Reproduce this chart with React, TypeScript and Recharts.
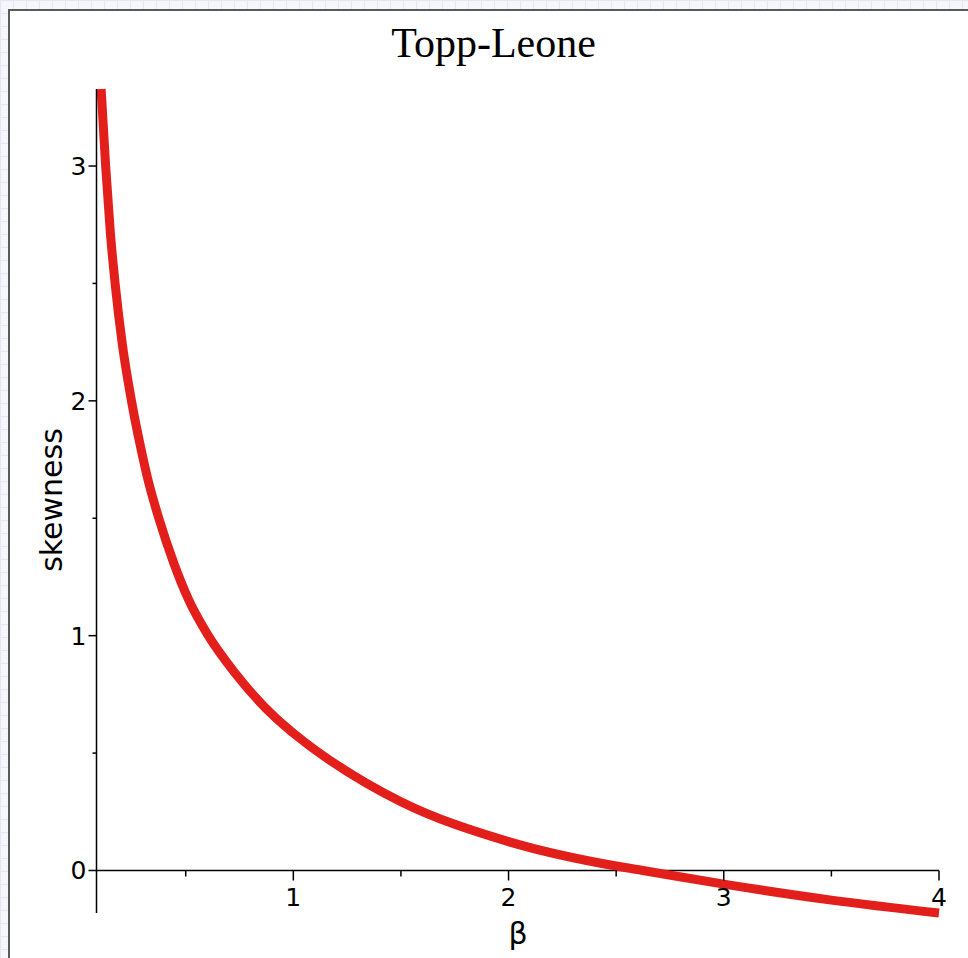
import React from 'react';
import { LineChart, Line, XAxis, YAxis, ReferenceLine, ReferenceDot } from 'recharts';

const betaValues = [0.107, 0.128, 0.15, 0.172, 0.205, 0.248, 0.29, 0.325, 0.375, 0.445, 0.515, 0.605, 0.73, 0.92, 1.0, 1.341, 1.5, 2.0, 2.5, 2.624, 3.0, 3.5, 4.0];
const skewValues = [3.328, 3.0, 2.714, 2.5, 2.245, 2.0, 1.805, 1.663, 1.5, 1.308, 1.15, 1.0, 0.84, 0.648, 0.585, 0.371, 0.293, 0.123, 0.019, 0, -0.058, -0.126, -0.181];
const xTicks = [0.5, 1, 1.5, 2, 2.5, 3, 3.5, 4];
const yTicks = [0, 0.5, 1, 1.5, 2, 2.5, 3];
const xDomain: [number, number] = [0.0855, 4];
const yDomain: [number, number] = [-0.181, 3.328];

const titleText = 'Topp-Leone';
const xLabelText = 'β';
const yLabelText = 'skewness';

const data = betaValues.map((b, i) => ({ beta: b, skew: skewValues[i] }));

const TICK_FONT = 'DejaVu Sans, sans-serif';

const YTick = (props: any) => {
  const { x, y, payload } = props;
  const v = payload.value;
  const major = Number.isInteger(v);
  return (
    <g>
      <line x1={x - (major ? 8 : 4)} x2={x} y1={y} y2={y} stroke="#000" strokeWidth={1.5} />
      {major && (
        <text x={x - 10} y={y + 9} textAnchor="end" fontFamily={TICK_FONT} fontSize={25} fill="#000">
          {v}
        </text>
      )}
    </g>
  );
};

const makeXTick = (v: number) => (props: any) => {
  const { cx, cy } = props;
  const major = Number.isInteger(v);
  return (
    <g>
      <line x1={cx} x2={cx} y1={cy} y2={cy + (major ? 10 : 6)} stroke="#000" strokeWidth={1.5} />
      {major && (
        <text x={cx} y={cy + 36} textAnchor="middle" fontFamily={TICK_FONT} fontSize={25} fill="#000">
          {v}
        </text>
      )}
    </g>
  );
};

export default function App() {
  return (
    <div
      style={{
        position: 'absolute',
        left: 0,
        top: 0,
        width: 968,
        height: 958,
        overflow: 'hidden',
        backgroundColor: '#f6f7fb',
        backgroundImage:
          'linear-gradient(to right, #e2e7f1 1px, transparent 1px), linear-gradient(to bottom, #e2e7f1 1px, transparent 1px)',
        backgroundSize: '13px 13px',
      }}
    >
      <div
        style={{
          position: 'absolute',
          left: 8,
          top: 9,
          width: 970,
          height: 960,
          background: '#fff',
          borderLeft: '2px solid #5a5a5a',
          borderTop: '2px solid #5a5a5a',
          boxSizing: 'border-box',
        }}
      />
      <div style={{ position: 'absolute', left: 0, top: 0 }}>
        <LineChart width={968} height={958} data={data} margin={{ top: 89, right: 29, bottom: 45, left: 0 }}>
          <XAxis dataKey="beta" type="number" domain={xDomain} hide />
          <YAxis
            type="number"
            domain={yDomain}
            ticks={yTicks}
            width={96.5}
            tickSize={0}
            tickMargin={0}
            tickLine={false}
            axisLine={{ stroke: '#000', strokeWidth: 1.5 }}
            tick={<YTick />}
            interval={0}
          />
          <ReferenceLine y={0} stroke="#000" strokeWidth={1.5} />
          {xTicks.map((v) => (
            <ReferenceDot key={v} x={v} y={0} r={0} shape={makeXTick(v)} />
          ))}
          <Line
            type="monotone"
            dataKey="skew"
            stroke="#e31f1c"
            strokeWidth={9}
            dot={false}
            activeDot={false}
            isAnimationActive={false}
          />
        </LineChart>
      </div>
      <svg width={968} height={958} style={{ position: 'absolute', left: 0, top: 0, pointerEvents: 'none' }}>
        <text x={493.5} y={57} textAnchor="middle" fontFamily="Liberation Serif, serif" fontSize={42} fill="#000">
          {titleText}
        </text>
        <text x={518} y={944} textAnchor="middle" fontFamily={TICK_FONT} fontSize={30} fill="#000">
          {xLabelText}
        </text>
        <text
          transform="translate(62,500) rotate(-90)"
          textAnchor="middle"
          fontFamily={TICK_FONT}
          fontSize={30}
          fill="#000"
        >
          {yLabelText}
        </text>
      </svg>
    </div>
  );
}
